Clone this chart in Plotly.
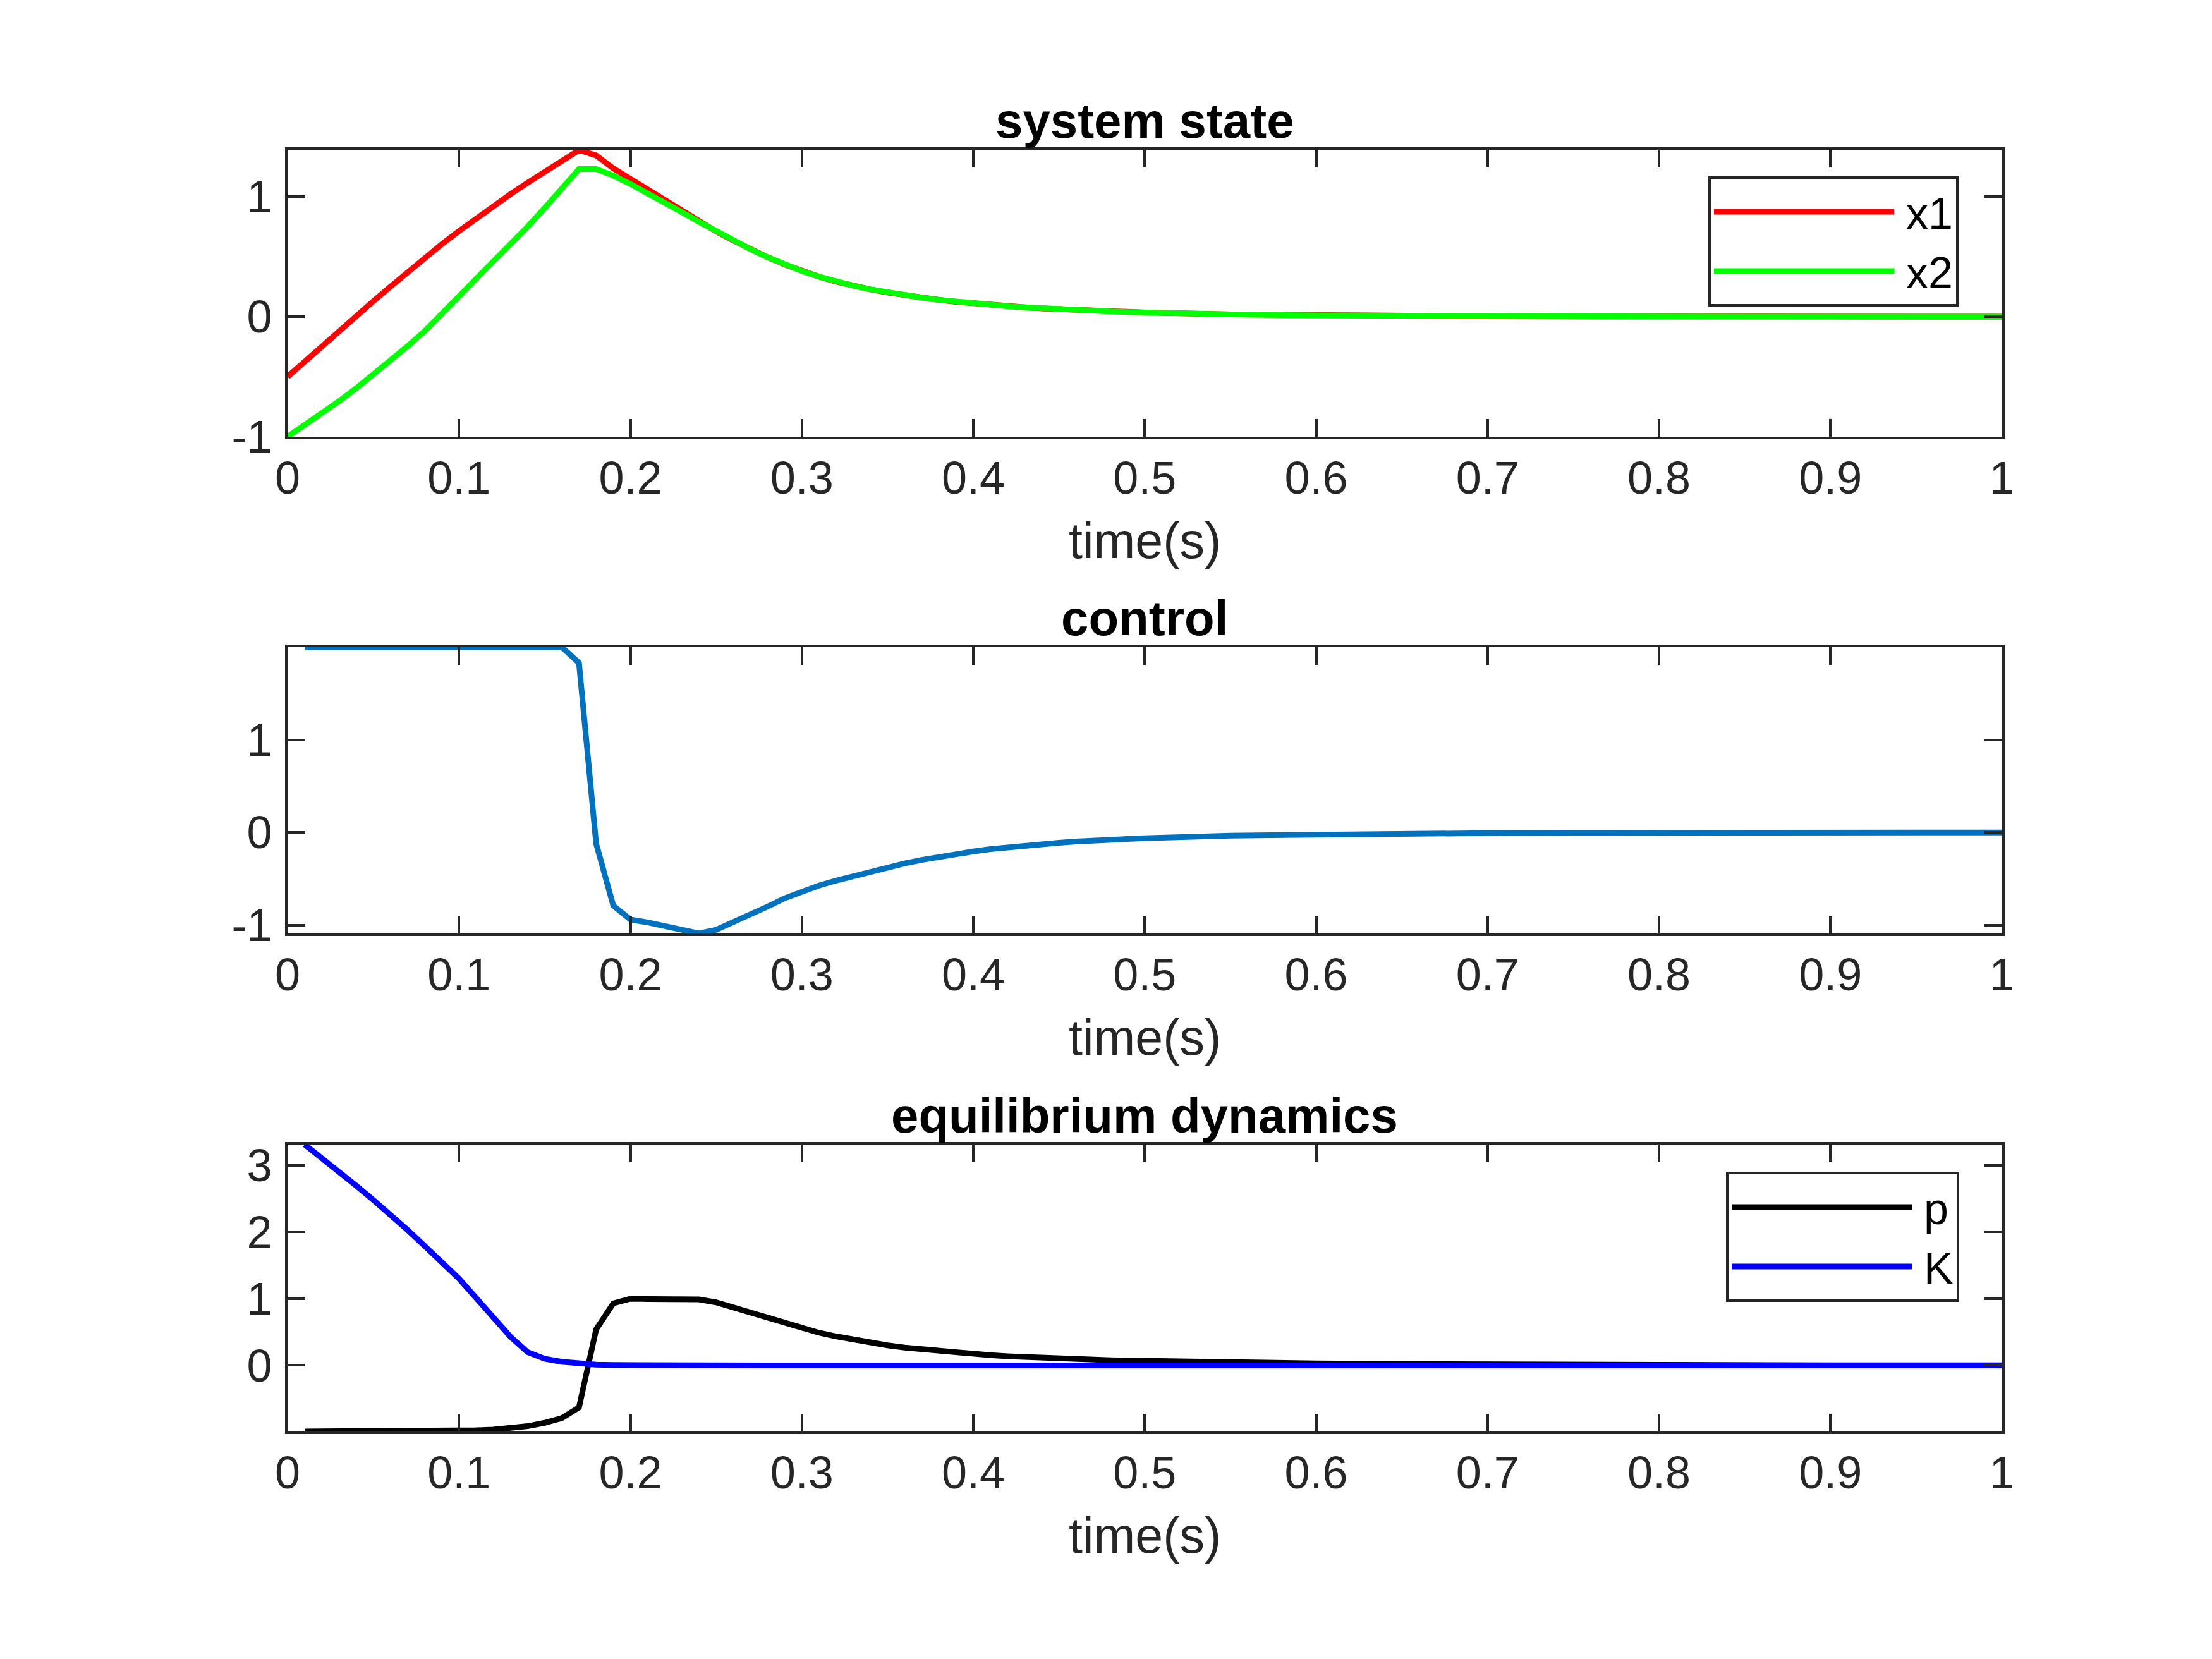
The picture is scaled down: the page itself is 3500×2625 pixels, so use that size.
import plotly.graph_objects as go

# time axis for the state (starts at 0)
t_state = [0.00, 0.01, 0.02, 0.03, 0.04, 0.05, 0.06, 0.07, 0.08, 0.09,
           0.10, 0.11, 0.12, 0.13, 0.14, 0.15, 0.16, 0.17, 0.18, 0.19,
           0.20, 0.21, 0.22, 0.23, 0.24, 0.25, 0.26, 0.27, 0.28, 0.29,
           0.30, 0.31, 0.32, 0.33, 0.34, 0.35, 0.36, 0.37, 0.38, 0.39,
           0.40, 0.41, 0.42, 0.43, 0.44, 0.45, 0.46, 0.47, 0.48, 0.49,
           0.50, 0.55, 0.60, 0.65, 0.70, 0.75, 0.80, 0.85, 0.90, 0.95, 1.00]

x1 = [-0.50, -0.372, -0.245, -0.119, 0.005, 0.128, 0.25, 0.37, 0.488, 0.604,
      0.713, 0.818, 0.92, 1.02, 1.115, 1.21, 1.30, 1.387, 1.343, 1.235,
      1.148, 1.06, 0.97, 0.885, 0.795, 0.71, 0.635, 0.562, 0.495, 0.434,
      0.38, 0.333, 0.292, 0.257, 0.227, 0.201, 0.178, 0.158, 0.14, 0.124,
      0.11, 0.098, 0.087, 0.078, 0.069, 0.062, 0.055, 0.049, 0.044, 0.039,
      0.035, 0.019, 0.011, 0.006, 0.0035, 0.002, 0.0012, 0.0007, 0.0004, 0.0002, 0.0001]

x2 = [-1.00, -0.904, -0.806, -0.704, -0.597, -0.485, -0.368, -0.246, -0.12, 0.025,
      0.165, 0.305, 0.45, 0.598, 0.75, 0.905, 1.065, 1.229, 1.229, 1.175,
      1.105, 1.03, 0.95, 0.87, 0.79, 0.71, 0.635, 0.562, 0.495, 0.434,
      0.38, 0.333, 0.292, 0.257, 0.227, 0.201, 0.178, 0.158, 0.14, 0.124,
      0.11, 0.098, 0.087, 0.078, 0.069, 0.062, 0.055, 0.049, 0.044, 0.039,
      0.035, 0.019, 0.011, 0.006, 0.0035, 0.002, 0.0012, 0.0007, 0.0004, 0.0002, 0.0001]

# time axis for control and equilibrium dynamics (starts at 0.01)
t_ctrl = [0.01, 0.02, 0.03, 0.04, 0.05, 0.06, 0.07, 0.08, 0.09,
          0.10, 0.11, 0.12, 0.13, 0.14, 0.15, 0.16, 0.17, 0.18, 0.19,
          0.20, 0.21, 0.22, 0.23, 0.24, 0.25, 0.26, 0.27, 0.28, 0.29,
          0.30, 0.31, 0.32, 0.33, 0.34, 0.35, 0.36, 0.37, 0.38, 0.39,
          0.40, 0.41, 0.42, 0.43, 0.44, 0.45, 0.46, 0.47, 0.48, 0.49,
          0.50, 0.55, 0.60, 0.65, 0.70, 0.75, 0.80, 0.85, 0.90, 0.95, 1.00]

u = [2.0, 2.0, 2.0, 2.0, 2.0, 2.0, 2.0, 2.0, 2.0,
     2.0, 2.0, 2.0, 2.0, 2.0, 2.0, 2.0, 1.83, -0.12, -0.79,
     -0.94, -0.97, -1.01, -1.05, -1.09, -1.05, -0.97, -0.885, -0.80, -0.71,
     -0.635, -0.573, -0.519, -0.469, -0.421, -0.376, -0.334, -0.296, -0.262, -0.232,
     -0.205, -0.18, -0.159, -0.141, -0.125, -0.111, -0.098, -0.087, -0.077, -0.069,
     -0.061, -0.034, -0.02, -0.012, -0.007, -0.004, -0.0025, -0.0015, -0.001, -0.0005, -0.0003]

p = [-0.99, -0.99, -0.99, -0.99, -0.989, -0.988, -0.987, -0.985, -0.982,
     -0.978, -0.972, -0.962, -0.945, -0.91, -0.86, -0.79, -0.63, 0.54, 0.93,
     1.0, 0.995, 0.995, 0.995, 0.99, 0.945, 0.87, 0.79, 0.71, 0.635,
     0.56, 0.49, 0.435, 0.385, 0.34, 0.30, 0.267, 0.24, 0.213, 0.19,
     0.17, 0.153, 0.138, 0.125, 0.113, 0.103, 0.094, 0.086, 0.079, 0.073,
     0.068, 0.045, 0.03, 0.02, 0.013, 0.009, 0.006, 0.004, 0.003, 0.002, 0.0015]

K = [3.31, 3.11, 2.905, 2.695, 2.48, 2.26, 2.03, 1.79, 1.55,
     1.30, 1.01, 0.72, 0.43, 0.20, 0.10, 0.055, 0.03, 0.012, 0.006,
     0.003, 0.002, 0.001, 0.0, 0.0, 0.0, 0.0, 0.0, 0.0, 0.0,
     0.0, 0.0, 0.0, 0.0, 0.0, 0.0, 0.0, 0.0, 0.0, 0.0,
     0.0, 0.0, 0.0, 0.0, 0.0, 0.0, 0.0, 0.0, 0.0, 0.0,
     0.0, 0.0, 0.0, 0.0, 0.0, 0.0, 0.0, 0.0, 0.0, 0.0, 0.0]

x_ticks = [0, 0.1, 0.2, 0.3, 0.4, 0.5, 0.6, 0.7, 0.8, 0.9, 1]
x_ticktext = ["0", "0.1", "0.2", "0.3", "0.4", "0.5", "0.6", "0.7", "0.8", "0.9", "1"]
y1_ticks, y1_text = [-1, 0, 1], ["-1", "0", "1"]
y2_ticks, y2_text = [-1, 0, 1], ["-1", "0", "1"]
y3_ticks, y3_text = [0, 1, 2, 3], ["0", "1", "2", "3"]

titles = ["system state", "control", "equilibrium dynamics"]
xlabel = "time(s)"

FONT = "Liberation Sans, Arial, Helvetica, sans-serif"
AX = "#262626"
LW = 9
W, H = 3500, 2625
OFF = 8  # page body margin in the browser


def px(x):
    return (x - OFF) / W


def py(y):
    return 1 - (y - OFF) / H


fig = go.Figure()
fig.add_trace(go.Scatter(x=t_state, y=x1, mode="lines", name="\u2009x1",
                         line=dict(color="#FF0000", width=LW),
                         xaxis="x", yaxis="y", legend="legend"))
fig.add_trace(go.Scatter(x=t_state, y=x2, mode="lines", name="\u2009x2",
                         line=dict(color="#00FF00", width=LW),
                         xaxis="x", yaxis="y", legend="legend"))
fig.add_trace(go.Scatter(x=t_ctrl, y=u, mode="lines", name="u",
                         line=dict(color="#0072BD", width=LW),
                         xaxis="x2", yaxis="y2", showlegend=False))
fig.add_trace(go.Scatter(x=t_ctrl, y=p, mode="lines", name="\u2009p",
                         line=dict(color="#000000", width=LW),
                         xaxis="x3", yaxis="y3", legend="legend2"))
fig.add_trace(go.Scatter(x=t_ctrl, y=K, mode="lines", name="\u2009K",
                         line=dict(color="#0000FF", width=LW),
                         xaxis="x3", yaxis="y3", legend="legend2"))

common = dict(showline=True, linecolor=AX, linewidth=4, mirror="ticks",
              ticks="inside", ticklen=28, tickwidth=4, tickcolor=AX,
              showgrid=False, zeroline=False, fixedrange=True, automargin=False,
              tickfont=dict(family=FONT, size=72, color=AX))

# axes boxes in pixels: (top, bottom)
boxes = [(237, 691), (1024, 1477), (1811, 2265)]
left_px, right_px = 455, 3167.5
yranges = [[-1.0, 1.39], [-1.09, 2.0], [-0.99, 3.31]]
yticks = [(y1_ticks, y1_text), (y2_ticks, y2_text), (y3_ticks, y3_text)]

layout = dict(width=W, height=H, autosize=False,
              margin=dict(l=0, r=0, t=0, b=0),
              paper_bgcolor="white", plot_bgcolor="white",
              font=dict(family=FONT, color=AX))
annotations = []
xc = (px(left_px) + px(right_px)) / 2
for i in range(3):
    sfx = "" if i == 0 else str(i + 1)
    top, bot = boxes[i]
    layout["xaxis" + sfx] = dict(common, domain=[px(left_px), px(right_px)], range=[0, 1],
                                 tickvals=x_ticks, ticktext=x_ticktext,
                                 anchor="y" + sfx, ticklabelstandoff=0)
    layout["yaxis" + sfx] = dict(common, domain=[py(bot), py(top)], range=yranges[i],
                                 tickvals=yticks[i][0], ticktext=yticks[i][1],
                                 anchor="x" + sfx, ticklabelstandoff=6)
    annotations.append(dict(text="<b>" + titles[i] + "</b>", xref="paper", yref="paper",
                            x=xc, y=py(top), xanchor="center", yanchor="bottom",
                            showarrow=False, font=dict(family=FONT, size=78, color="#000000")))
    annotations.append(dict(text=xlabel, xref="paper", yref="paper",
                            x=xc, y=py(bot), xanchor="center", yanchor="top",
                            yshift=-118, showarrow=False,
                            font=dict(family=FONT, size=79, color=AX)))
layout["annotations"] = annotations

leg = dict(xanchor="right", yanchor="top", bgcolor="white", bordercolor=AX,
           borderwidth=4, font=dict(family=FONT, size=70, color="#000000"),
           itemwidth=285, tracegroupgap=0)
layout["legend"] = dict(leg, x=px(3099), y=py(279))
layout["legend2"] = dict(leg, x=px(3100), y=py(1854))

fig.update_layout(layout)
fig.write_html("out.html")
